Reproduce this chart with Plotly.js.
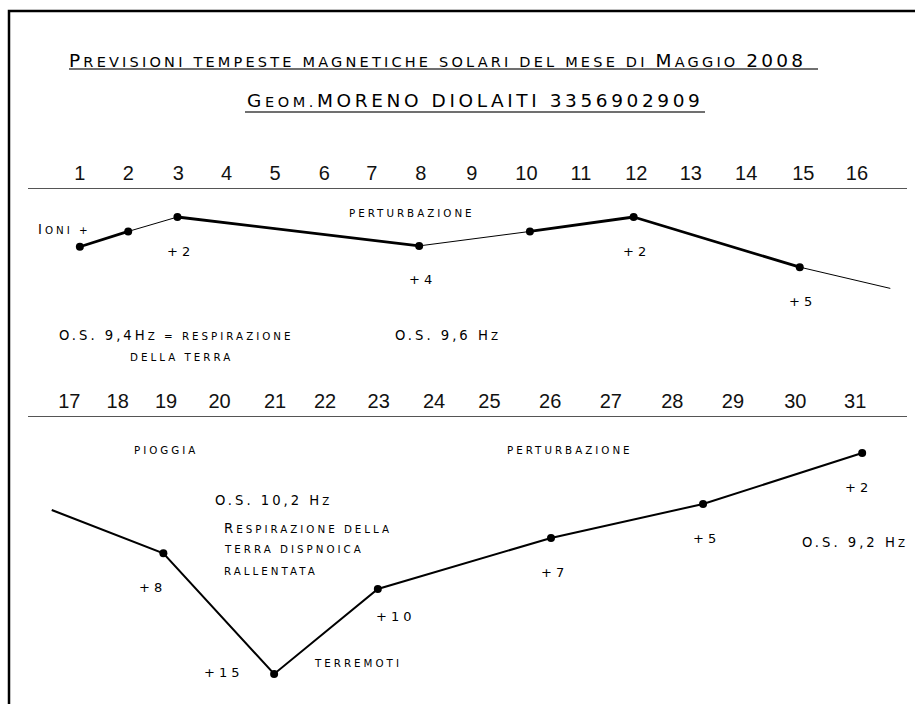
<!DOCTYPE html>
<html>
<head>
<meta charset="utf-8">
<script src="https://cdn.plot.ly/plotly-3.0.1.min.js"></script>
<style>
html,body{margin:0;padding:0;background:#fff;}
#chart{width:915px;height:704px;}
</style>
</head>
<body>
<div id="chart"></div>
<script>
// ---------- DATA ----------
// Day rulers: label and its position along the ruler (% of ruler length)
const topDays = ['1','2','3','4','5','6','7','8','9','10','11','12','13','14','15','16'];
const topDayPos = [5.9, 11.4, 17.1, 22.6, 28.1, 33.7, 39.1, 44.7, 50.5, 56.7, 62.9, 69.2, 75.4, 81.7, 88.2, 94.3];
const bottomDays = ['17','18','19','20','21','22','23','24','25','26','27','28','29','30','31'];
const bottomDayPos = [4.7, 10.2, 15.7, 21.8, 28.1, 33.8, 39.9, 46.2, 52.5, 59.4, 66.3, 73.3, 80.2, 87.3, 94.1];

// First half of the month: position along ruler (%) and storm level
const topPos   = [5.9, 11.4, 17.0, 44.5, 57.1, 68.9, 87.8, 98.1];
const topLevel = [3.75, 2.85, 2.0, 3.7, 2.85, 2.0, 4.95, 6.2];
const topMarked = [1, 1, 1, 1, 1, 1, 1, 0];
const topThickSeg = [1, 0, 1, 0, 1, 1, 0];   // segment i joins point i and i+1
const topValueLabels = ['', '', '+2', '+4', '', '+2', '+5', ''];

// Second half of the month
const bottomPos   = [2.7, 15.4, 28.0, 39.8, 59.5, 76.8, 94.9];
const bottomLevel = [5.35, 7.9, 15.0, 10.0, 7.0, 5.0, 2.0];
const bottomMarked = [0, 1, 1, 1, 1, 1, 1];
const bottomValueLabels = ['', '+8', '+15', '+10', '+7', '+5', '+2'];

// ---------- helpers ----------
const W = 915, H = 704;
const px = v => v / W;
const py = v => 1 - v / H;
const FONT = 'DejaVu Sans, Verdana, sans-serif';

function smallCaps(str, big, small, spacing) {
  let out = '', cls = null, run = '';
  const flush = () => {
    if (run) out += '<span style="font-size:' + (cls === 's' ? small : big) + 'px">' + run + '</span>';
    run = '';
  };
  for (const ch of str) {
    let c;
    if (/[a-zà-ù]/.test(ch)) c = 's';
    else if (/[A-Z0-9]/.test(ch)) c = 'b';
    else c = cls || 's';
    if (c !== cls) { flush(); cls = c; }
    run += ch.toUpperCase();
  }
  flush();
  return '<span style="letter-spacing:' + spacing + 'px">' + out + '</span>';
}

// ---------- traces ----------
const traces = [];
traces.push({x: topPos, y: topLevel, xaxis: 'x', yaxis: 'y', mode: 'lines',
  line: {color: '#000', width: 1}, hoverinfo: 'skip'});
const tx = [], ty = [];
topThickSeg.forEach((t, i) => {
  if (t) { tx.push(topPos[i], topPos[i + 1], null); ty.push(topLevel[i], topLevel[i + 1], null); }
});
traces.push({x: tx, y: ty, xaxis: 'x', yaxis: 'y', mode: 'lines',
  line: {color: '#000', width: 2.8}, connectgaps: false, hoverinfo: 'skip'});
traces.push({x: topPos.filter((_, i) => topMarked[i]), y: topLevel.filter((_, i) => topMarked[i]),
  xaxis: 'x', yaxis: 'y', mode: 'markers', marker: {color: '#000', size: 8}, hoverinfo: 'skip'});

traces.push({x: bottomPos, y: bottomLevel, xaxis: 'x2', yaxis: 'y2', mode: 'lines',
  line: {color: '#000', width: 2}, hoverinfo: 'skip'});
traces.push({x: bottomPos.filter((_, i) => bottomMarked[i]), y: bottomLevel.filter((_, i) => bottomMarked[i]),
  xaxis: 'x2', yaxis: 'y2', mode: 'markers', marker: {color: '#000', size: 8}, hoverinfo: 'skip'});

// ---------- annotations ----------
const annotations = [];
// value labels beside the points
const topShift = {};
const bottomShift = {1: [-13, -34], 2: [-53, 2], 3: [16, -27], 6: [-6, -34]};
function addValueLabels(pos, lvl, labels, shifts, xr, yr) {
  labels.forEach((t, i) => {
    if (!t) return;
    const s = shifts[i] || [1, -34];
    annotations.push({x: pos[i], y: lvl[i], xref: xr, yref: yr, showarrow: false,
      text: '<span style="letter-spacing:4px">' + t + '</span>',
      xshift: s[0] + 2, yshift: s[1], xanchor: 'center', yanchor: 'middle',
      font: {family: FONT, size: 13, color: '#000'}});
  });
}
addValueLabels(topPos, topLevel, topValueLabels, topShift, 'x', 'y');
addValueLabels(bottomPos, bottomLevel, bottomValueLabels, bottomShift, 'x2', 'y2');

// free notes: text, left edge, vertical centre (page pixels)
const notes = [
  ['Ioni +', 36, 230],
  ['perturbazione', 347, 213],
  ['O.S. 9,4Hz = respirazione', 57, 335],
  ['della terra', 128, 357],
  ['O.S. 9,6 Hz', 393, 335],
  ['pioggia', 132, 450],
  ['perturbazione', 505, 450],
  ['O.S. 10,2 Hz', 213, 500],
  ['Respirazione della', 222, 528],
  ['terra dispnoica', 222, 549],
  ['rallentata', 222, 571],
  ['terremoti', 312, 663],
  ['O.S. 9,2 Hz', 800, 542]
];
notes.forEach(n => {
  annotations.push({x: px(n[1]), y: py(n[2]), xref: 'paper', yref: 'paper', showarrow: false,
    xanchor: 'left', yanchor: 'middle', text: smallCaps(n[0], 13.2, 10.3, 3.0),
    font: {family: FONT, size: 12, color: '#000'}});
});
// author line
annotations.push({x: px(245), y: py(101), xref: 'paper', yref: 'paper', showarrow: false,
  xanchor: 'left', yanchor: 'middle',
  text: smallCaps('Geom.MORENO DIOLAITI 3356902909', 18.5, 14.5, 3.6),
  font: {family: FONT, size: 17, color: '#000'}});

// ---------- layout ----------
const dayFont = {family: 'Liberation Sans, Arial, sans-serif', size: 20, color: '#111'};
const xCommon = {domain: [px(28), px(907)], range: [0, 100], side: 'top', tickmode: 'array',
  showline: true, linecolor: '#555', linewidth: 1.2, ticks: '', showgrid: false, zeroline: false,
  tickfont: dayFont, ticklabelstandoff: 0, fixedrange: true};

const layout = {
  width: W, height: H,
  margin: {l: 0, r: 0, t: 0, b: 0},
  paper_bgcolor: '#fff', plot_bgcolor: '#fff',
  showlegend: false, hovermode: false,
  title: {
    text: smallCaps('Previsioni tempeste magnetiche solari del mese di Maggio 2008', 18.5, 14.5, 3.2),
    x: px(69), xref: 'container', xanchor: 'left',
    y: 1 - 61 / H, yref: 'container', yanchor: 'middle',
    font: {family: FONT, size: 17, color: '#000'}
  },
  xaxis: Object.assign({}, xCommon, {anchor: 'y', tickvals: topDayPos, ticktext: topDays}),
  yaxis: {domain: [py(380), py(189)], range: [11.588, 0.353], visible: false, fixedrange: true},
  xaxis2: Object.assign({}, xCommon, {anchor: 'y2', tickvals: bottomDayPos, ticktext: bottomDays}),
  yaxis2: {domain: [0, py(417)], range: [16.765, -0.118], visible: false, fixedrange: true},
  annotations: annotations,
  shapes: [
    {type: 'rect', xref: 'paper', yref: 'paper', x0: px(9), x1: 1.1, y0: -0.1, y1: py(11),
      line: {color: '#000', width: 2.5}, fillcolor: 'rgba(0,0,0,0)'},
    {type: 'line', xref: 'paper', yref: 'paper', x0: px(69), x1: px(818), y0: py(69), y1: py(69),
      line: {color: '#707070', width: 2}},
    {type: 'line', xref: 'paper', yref: 'paper', x0: px(245), x1: px(705), y0: py(112), y1: py(112),
      line: {color: '#707070', width: 2}}
  ]
};

Plotly.newPlot('chart', traces, layout, {displayModeBar: false, staticPlot: true});
</script>
</body>
</html>
